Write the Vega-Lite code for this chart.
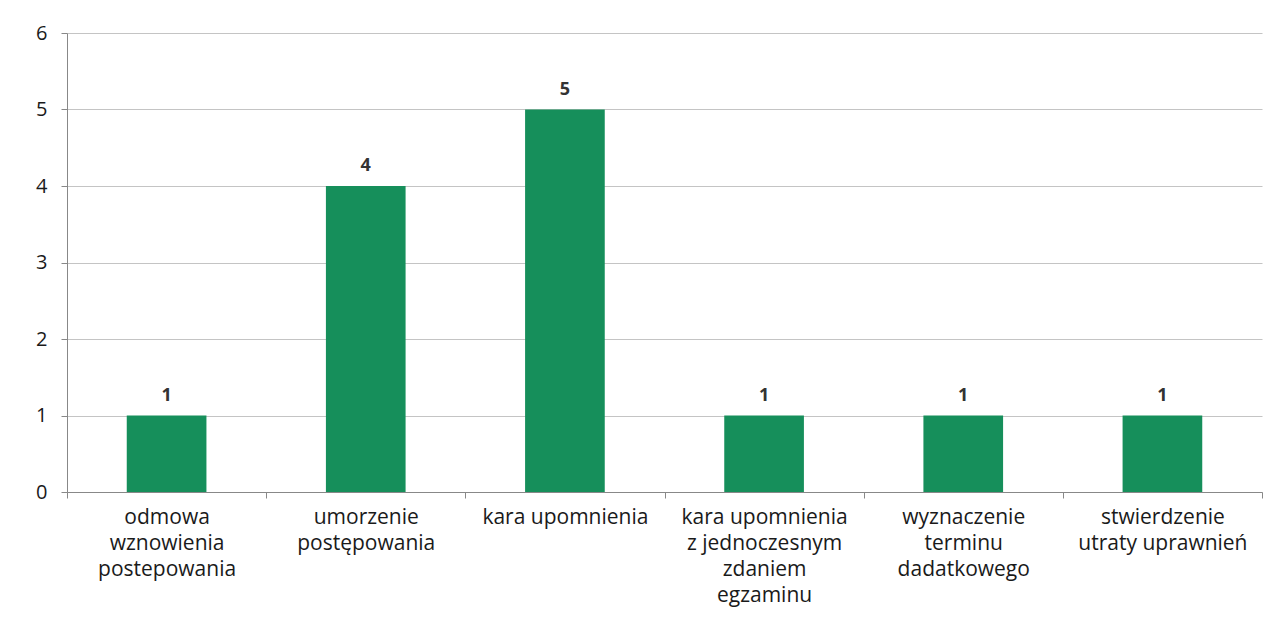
{
  "$schema": "https://vega.github.io/schema/vega-lite/v6.json",
  "width": 1195,
  "height": 459,
  "autosize": {"type": "none"},
  "padding": {"left": 67, "top": 33, "right": 23, "bottom": 133},
  "background": "white",
  "config": {"view": {"stroke": null}, "font": "Open Sans"},
  "data": {"values": [
    {"kategoria": "odmowa|wznowienia|postepowania", "liczba": 1},
    {"kategoria": "umorzenie|postępowania", "liczba": 4},
    {"kategoria": "kara upomnienia", "liczba": 5},
    {"kategoria": "kara upomnienia|z jednoczesnym|zdaniem|egzaminu", "liczba": 1},
    {"kategoria": "wyznaczenie|terminu|dadatkowego", "liczba": 1},
    {"kategoria": "stwierdzenie|utraty uprawnień", "liczba": 1}
  ]},
  "encoding": {
    "x": {"field": "kategoria", "type": "nominal", "sort": null,
      "scale": {"paddingInner": 0, "paddingOuter": 0},
      "axis": {"title": null, "labelAngle": 0, "labelExpr": "split(datum.label, '|')",
        "labelFontSize": 21, "labelColor": "#1a1a1a", "labelLineHeight": 26, "labelPadding": 8,
        "tickBand": "extent", "tickSize": 6, "tickColor": "#888", "domainColor": "#888", "labelLimit": 300}},
    "y": {"field": "liczba", "type": "quantitative",
      "scale": {"domain": [0, 6]},
      "axis": {"title": null, "values": [0,1,2,3,4,5,6], "labelFontSize": 20, "labelColor": "#1a1a1a", "labelPadding": 14,
        "tickSize": 6, "tickColor": "#888", "domainColor": "#888", "gridColor": "#c4c4c4", "grid": true}}
  },
  "layer": [
    {"mark": {"type": "bar", "color": "#168f5b", "width": {"band": 0.4}}},
    {"mark": {"type": "text", "dy": -20, "fontSize": 18, "fontWeight": "bold", "color": "#333"},
      "encoding": {"text": {"field": "liczba", "type": "quantitative"}}}
  ]
}
